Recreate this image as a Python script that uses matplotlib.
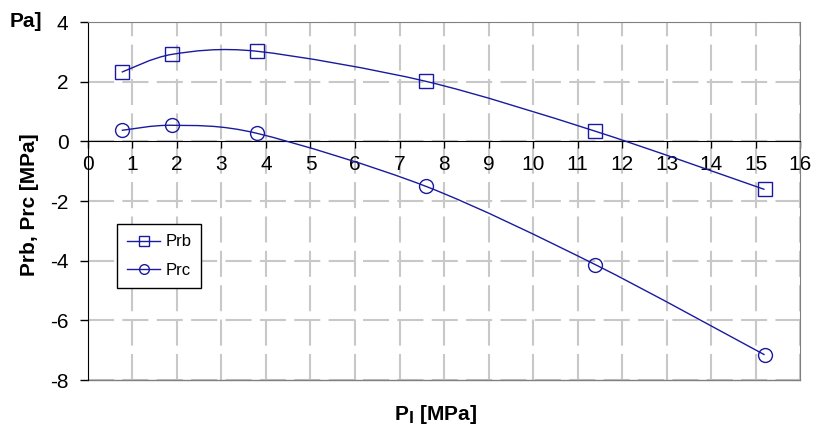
import numpy as np
import matplotlib.pyplot as plt
from matplotlib.path import Path
from matplotlib.patches import PathPatch

plt.rcParams['font.family'] = ['Liberation Sans', 'DejaVu Sans']
plt.rcParams['axes.unicode_minus'] = False

# data
pl = [0.76, 1.9, 3.8, 7.6, 11.4, 15.2]
prb = [2.32, 2.92, 3.02, 2.01, 0.34, -1.61]
prc = [0.37, 0.54, 0.27, -1.51, -4.13, -7.15]

x_ticks = list(range(0, 17))
y_ticks = [-8, -6, -4, -2, 0, 2, 4]

line_col = '#1a1aa0'


def smooth_path(x, y, t=0.15):
    # excel-like smoothed line drawn with cubic bezier segments
    x = np.asarray(x, float)
    y = np.asarray(y, float)
    n = len(x)
    verts = [(x[0], y[0])]
    codes = [Path.MOVETO]
    for i in range(n - 1):
        x0, y0 = (x[i - 1], y[i - 1]) if i > 0 else (x[i], y[i])
        x3, y3 = (x[i + 2], y[i + 2]) if i + 2 < n else (x[i + 1], y[i + 1])
        c1 = (x[i] + (x[i + 1] - x0) * t, y[i] + (y[i + 1] - y0) * t)
        c2 = (x[i + 1] - (x3 - x[i]) * t, y[i + 1] - (y3 - y[i]) * t)
        verts += [c1, c2, (x[i + 1], y[i + 1])]
        codes += [Path.CURVE4] * 3
    return Path(verts, codes)


fig = plt.figure(figsize=(8.14, 4.32), dpi=100)
ax = fig.add_axes([0.108, 0.120, 0.875, 0.829])

for xs, ys, mk, lab in [(pl, prb, 's', 'Prb'), (pl, prc, 'o', 'Prc')]:
    ax.add_patch(PathPatch(smooth_path(xs, ys), facecolor='none',
                           edgecolor=line_col, lw=1.0, zorder=3))
    ax.plot(xs, ys, linestyle='none', marker=mk, ms=10, mfc='none',
            mec=line_col, mew=1.0, zorder=4)
    # legend proxy
    ax.plot([], [], color=line_col, lw=1.0, marker=mk, ms=7, mfc='none',
            mec=line_col, label=lab)

ax.set_xlim(0, 16)
ax.set_ylim(-8, 4)
ax.set_xticks(x_ticks)
ax.set_yticks(y_ticks)
ax.grid(True, color='#c8c8c8', lw=1.5, linestyle=(0, (12.5, 4)))
ax.set_axisbelow(True)

ax.spines['bottom'].set_position(('data', 0))
ax.spines['bottom'].set_color('black')
ax.spines['left'].set_color('black')
ax.spines['top'].set_color('#808080')
ax.spines['right'].set_color('#808080')
ax.plot([0, 16], [-8, -8], color='#808080', lw=1.0, clip_on=False, zorder=1)

ax.tick_params(axis='x', direction='out', length=5, width=1, pad=5, labelsize=15)
ax.tick_params(axis='y', direction='out', length=6, width=1, labelsize=15, pad=8)

ax.set_ylabel('Prb, Prc [MPa]', fontsize=15, fontweight='bold')
ax.yaxis.set_label_coords(-0.069, 0.49)
fig.text(0.535, 0.04, r'P$_\mathbf{l}$ [MPa]', fontsize=15, fontweight='bold',
         ha='center', va='center')
fig.text(0.012, 0.95, 'Pa]', fontsize=15, fontweight='bold', ha='left', va='center')

leg = ax.legend(loc='upper left', bbox_to_anchor=(0.041, 0.435), fontsize=12,
                frameon=True, fancybox=False, edgecolor='black', framealpha=1,
                handlelength=2.0, borderpad=0.6, labelspacing=0.8, handletextpad=0.3,
                borderaxespad=0)
leg.get_frame().set_linewidth(1.0)

fig.savefig('out.png', dpi=100)
